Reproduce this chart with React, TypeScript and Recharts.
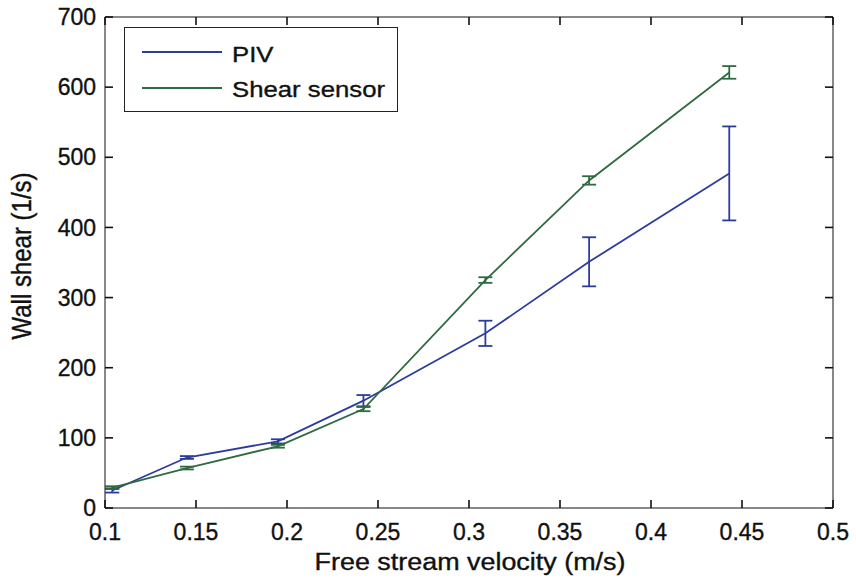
import React from 'react';
import { LineChart, Line, XAxis, YAxis, ErrorBar, Legend } from 'recharts';

// free stream velocity (m/s), shared by both series
const velocity = [0.104, 0.145, 0.195, 0.242, 0.309, 0.366, 0.443];
const pivShear = [25, 72, 95, 153, 249, 351, 477];
const pivErr = [3, 2, 3, 8, 18, 35, 67];
const sensorShear = [29, 57, 88, 141, 325, 467, 621];
const sensorErr = [2, 2, 2, 3, 4, 6, 9];

const xTicks = [0.1, 0.15, 0.2, 0.25, 0.3, 0.35, 0.4, 0.45, 0.5];
const yTicks = [0, 100, 200, 300, 400, 500, 600, 700];

const BLUE = '#2c3c9c';
const GREEN = '#2f6a40';
const INK = '#111';
const FONT = '"Liberation Sans", Arial, Helvetica, sans-serif';
const SX = 1.17; // the scan is a bit wide, so text is stretched sideways

const data = velocity.map((v, i) => ({
  v,
  piv: pivShear[i],
  pivErr: pivErr[i],
  sensor: sensorShear[i],
  sensorErr: sensorErr[i],
}));

const txt = { fill: INK, fontFamily: FONT, stroke: INK, strokeWidth: 0.35 };
const tickMark = { stroke: INK, strokeWidth: 1.6 };
const tickText = { fontSize: 23, ...txt };
const noLabel = () => '';

const XLabel = () => (
  <g transform={`translate(470,570) scale(${SX},1)`}>
    <text x={0} y={0} textAnchor="middle" fontSize={23} {...txt}>
      Free stream velocity (m/s)
    </text>
  </g>
);

const YLabel = () => (
  <g transform={`translate(31,256) scale(${SX},1) rotate(-90)`}>
    <text x={0} y={0} textAnchor="middle" fontSize={24} {...txt}>
      Wall shear (1/s)
    </text>
  </g>
);

const LegendBox = () => (
  <svg width={272} height={83} style={{ display: 'block' }}>
    <line x1={17} x2={97} y1={24} y2={24} stroke={BLUE} strokeWidth={1.8} />
    <line x1={17} x2={97} y1={60} y2={60} stroke={GREEN} strokeWidth={1.8} />
    <g transform={`translate(107,34) scale(${SX},1)`}>
      <text fontSize={22} {...txt}>PIV</text>
    </g>
    <g transform={`translate(107,69) scale(${SX},1)`}>
      <text fontSize={22} {...txt}>Shear sensor</text>
    </g>
  </svg>
);

export default function App() {
  return (
    <div style={{ position: 'absolute', left: 0, top: 0, background: '#fff' }}>
      <LineChart width={856} height={579} data={data} margin={{ top: 16, right: 22, bottom: 0, left: 0 }}>
        {/* negative tickSize puts the tick marks inside the box */}
        <XAxis
          dataKey="v"
          type="number"
          domain={[0.1, 0.5]}
          ticks={xTicks}
          height={71}
          stroke={INK}
          tickSize={-8}
          tickMargin={24}
          tickLine={tickMark}
          tick={tickText}
          label={{ content: XLabel }}
        />
        <XAxis
          xAxisId="top"
          dataKey="v"
          orientation="top"
          type="number"
          domain={[0.1, 0.5]}
          ticks={xTicks}
          height={1}
          stroke={INK}
          tickSize={-8}
          tickLine={tickMark}
          tickFormatter={noLabel}
        />
        <YAxis
          type="number"
          domain={[0, 700]}
          ticks={yTicks}
          width={105}
          stroke={INK}
          tickSize={-8}
          tickMargin={17}
          tickLine={tickMark}
          tick={tickText}
          label={{ content: YLabel }}
        />
        <YAxis
          yAxisId="right"
          orientation="right"
          type="number"
          domain={[0, 700]}
          ticks={yTicks}
          width={1}
          stroke={INK}
          tickSize={-8}
          tickLine={tickMark}
          tickFormatter={noLabel}
        />
        <Legend
          layout="vertical"
          align="center"
          verticalAlign="middle"
          content={<LegendBox />}
          wrapperStyle={{
            left: 124,
            top: 27,
            width: 274,
            height: 85,
            border: '1.5px solid #222',
            background: '#fff',
            boxSizing: 'border-box',
          }}
        />
        <Line
          type="linear"
          dataKey="piv"
          name="PIV"
          stroke={BLUE}
          strokeWidth={1.8}
          dot={false}
          isAnimationActive={false}
        >
          <ErrorBar dataKey="pivErr" direction="y" width={7} stroke={BLUE} strokeWidth={1.8} />
        </Line>
        {/* sensor series sits on the top/right axes (same domains) so those axes draw their ticks */}
        <Line
          type="linear"
          dataKey="sensor"
          name="Shear sensor"
          xAxisId="top"
          yAxisId="right"
          stroke={GREEN}
          strokeWidth={1.8}
          dot={false}
          isAnimationActive={false}
        >
          <ErrorBar dataKey="sensorErr" direction="y" width={7} stroke={GREEN} strokeWidth={1.8} />
        </Line>
      </LineChart>
    </div>
  );
}
